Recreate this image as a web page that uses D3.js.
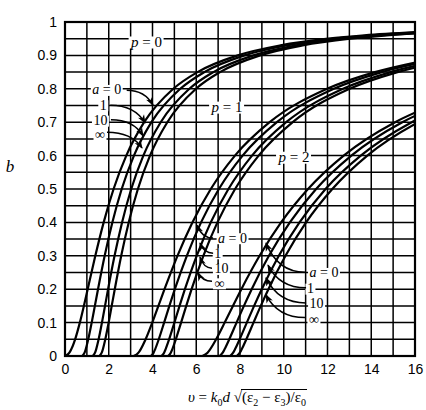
<!DOCTYPE html>
<html>
<head>
<meta charset="utf-8">
<script src="https://cdn.jsdelivr.net/npm/d3@7"></script>
<style>
	body { margin: 0; background: #fff; }
	.axis text { font-family: "Liberation Sans", Arial, sans-serif; font-size: 14px; fill: #000; }
	.serif { font-family: "Liberation Serif", "Times New Roman", serif; fill: #000; }
</style>
</head>
<body>
<svg id="viz"></svg>
<script>
/* values: v for each b, per mode p and asymmetry a */
var xTicks = [0, 2, 4, 6, 8, 10, 12, 14, 16];
var yTicks = [0, 0.1, 0.2, 0.3, 0.4, 0.5, 0.6, 0.7, 0.8, 0.9, 1];

var bMode0 = [0, 0.01, 0.02, 0.05, 0.1, 0.15, 0.2, 0.3, 0.4, 0.5, 0.6, 0.7, 0.8, 0.85, 0.9, 0.93, 0.95, 0.96, 0.97];
var vMode0A0   = [0, 0.201, 0.287, 0.463, 0.678, 0.863, 1.037, 1.386, 1.768, 2.221, 2.802, 3.619, 4.951, 6.058, 7.900, 9.850, 12.03, 13.69, 16.13];
var vMode0A1   = [0.785, 0.895, 0.947, 1.063, 1.220, 1.365, 1.509, 1.814, 2.164, 2.592, 3.152, 3.951, 5.269, 6.368, 8.204, 10.15, 12.33, 13.99, 16.42];
var vMode0A10  = [1.265, 1.373, 1.424, 1.537, 1.689, 1.830, 1.969, 2.265, 2.608, 3.028, 3.581, 4.375, 5.686, 6.783, 8.615, 10.56, 12.74, 14.40, 16.83];
var vMode0AInf = [1.571, 1.679, 1.730, 1.843, 1.995, 2.135, 2.275, 2.570, 2.912, 3.332, 3.885, 4.677, 5.988, 7.085, 8.917, 10.86, 13.04, 14.70, 17.13];

var bMode1 = [0, 0.01, 0.02, 0.05, 0.1, 0.15, 0.2, 0.3, 0.4, 0.5, 0.6, 0.7, 0.8, 0.85, 0.88];
var vMode1A0   = [3.142, 3.359, 3.460, 3.686, 3.990, 4.270, 4.549, 5.141, 5.824, 6.664, 7.769, 9.355, 11.98, 14.17, 16.10];
var vMode1A1   = [3.927, 4.052, 4.120, 4.286, 4.531, 4.772, 5.021, 5.569, 6.219, 7.035, 8.119, 9.687, 12.29, 14.48, 16.40];
var vMode1A10  = [4.406, 4.531, 4.597, 4.760, 5.001, 5.237, 5.482, 6.020, 6.663, 7.471, 8.549, 10.11, 12.71, 14.89, 16.81];
var vMode1AInf = [4.712, 4.837, 4.904, 5.066, 5.306, 5.543, 5.787, 6.325, 6.968, 7.775, 8.852, 10.41, 13.01, 15.20, 17.12];

var bMode2 = [0, 0.01, 0.02, 0.05, 0.1, 0.15, 0.2, 0.3, 0.4, 0.5, 0.6, 0.7, 0.75];
var vMode2A0   = [6.283, 6.516, 6.634, 6.909, 7.301, 7.678, 8.062, 8.895, 9.879, 11.11, 12.74, 15.09, 16.76];
var vMode2A1   = [7.069, 7.210, 7.294, 7.509, 7.843, 8.180, 8.534, 9.323, 10.28, 11.48, 13.09, 15.42, 17.08];
var vMode2A10  = [7.548, 7.688, 7.771, 7.983, 8.312, 8.645, 8.994, 9.775, 10.72, 11.91, 13.52, 15.85, 17.50];
var vMode2AInf = [7.854, 7.994, 8.077, 8.289, 8.618, 8.950, 9.299, 10.08, 11.02, 12.22, 13.82, 16.15, 17.80];

/* labels: [text, v, b] and arrows: [v from, b from, v tip, b tip] */
var modeLabels = [["0", 3.73, 0.94], ["1", 7.41, 0.745], ["2", 10.47, 0.595]];
var aNames = ["0", "1", "10", "\u221e"];
var aLabels0 = [[1.91, 0.797], [1.75, 0.751], [1.62, 0.705], [1.60, 0.664]];
var aLabels1 = [[7.66, 0.353], [6.98, 0.308], [7.15, 0.261], [7.06, 0.218]];
var aLabels2 = [[11.84, 0.249], [11.22, 0.202], [11.50, 0.157], [11.38, 0.111]];
var arrows0 = [[2.82, 0.796, 4.02, 0.751], [2.07, 0.751, 3.66, 0.698], [2.10, 0.707, 3.57, 0.659], [1.92, 0.670, 3.52, 0.623]];
var arrows1 = [[6.77, 0.353, 6.03, 0.392], [6.77, 0.308, 6.17, 0.338], [6.72, 0.263, 6.17, 0.296], [6.72, 0.224, 6.08, 0.249]];
var arrows2 = [[10.97, 0.251, 9.19, 0.338], [11.02, 0.204, 9.28, 0.272], [11.02, 0.159, 9.19, 0.234], [10.97, 0.115, 9.19, 0.183]];

/* create svg */
var margin = { top: 22, right: 11, bottom: 54, left: 65 },
	width = 426 - margin.left - margin.right,
	height = 410 - margin.top - margin.bottom;

var svg = d3.select('#viz')
	.attr('width', width + margin.left + margin.right)
	.attr('height', height + margin.top + margin.bottom);
var g = svg.append('g')
	.attr('transform', 'translate(' + margin.left + ',' + margin.top + ')');

var x = d3.scaleLinear().domain([0, 16]).range([0, width]);
var y = d3.scaleLinear().domain([0, 1]).range([height, 0]);

svg.append('defs').append('clipPath').attr('id', 'plot')
	.append('rect').attr('width', width).attr('height', height);

var marker = svg.select('defs').append('marker')
	.attr('id', 'head')
	.attr('viewBox', '0 -4 9 8')
	.attr('refX', 8).attr('refY', 0)
	.attr('markerWidth', 9).attr('markerHeight', 8)
	.attr('markerUnits', 'userSpaceOnUse')
	.attr('orient', 'auto');
marker.append('path').attr('d', 'M0,-3.5L9,0L0,3.5L2.5,0Z').attr('fill', '#000');

/* grid */
g.append('g').selectAll('line')
	.data(d3.range(1, 16))
	.enter().append('line')
	.attr('x1', function(d){ return x(d); })
	.attr('x2', function(d){ return x(d); })
	.attr('y1', 0).attr('y2', height)
	.attr('stroke', '#000').attr('stroke-width', 1.5);

g.append('g').selectAll('line')
	.data(d3.range(1, 20).map(function(i){ return i * 0.05; }))
	.enter().append('line')
	.attr('y1', function(d){ return y(d); })
	.attr('y2', function(d){ return y(d); })
	.attr('x1', 0).attr('x2', width)
	.attr('stroke', '#000').attr('stroke-width', 1.5);

/* axes */
var xAxis = d3.axisBottom(x).tickValues(xTicks).tickSize(0).tickPadding(8);
var yAxis = d3.axisLeft(y).tickValues(yTicks).tickSize(0).tickPadding(8)
	.tickFormat(d3.format('~g'));

g.append('g').attr('class', 'axis')
	.attr('transform', 'translate(0,' + height + ')')
	.call(xAxis)
	.call(function(a){ a.select('.domain').remove(); })
	.selectAll('text').attr('font-family', null).attr('font-size', null);

g.append('g').attr('class', 'axis')
	.call(yAxis)
	.call(function(a){ a.select('.domain').remove(); })
	.selectAll('text').attr('font-family', null).attr('font-size', null);

/* curves */
var series = [
	[bMode0, vMode0A0], [bMode0, vMode0A1], [bMode0, vMode0A10], [bMode0, vMode0AInf],
	[bMode1, vMode1A0], [bMode1, vMode1A1], [bMode1, vMode1A10], [bMode1, vMode1AInf],
	[bMode2, vMode2A0], [bMode2, vMode2A1], [bMode2, vMode2A10], [bMode2, vMode2AInf]
];

var line = d3.line()
	.x(function(d){ return x(d[0]); })
	.y(function(d){ return y(d[1]); })
	.curve(d3.curveMonotoneX);

g.append('g').attr('clip-path', 'url(#plot)')
	.selectAll('path')
	.data(series)
	.enter().append('path')
	.attr('d', function(s){
		return line(s[1].map(function(v, i){ return [v, s[0][i]]; }));
	})
	.attr('fill', 'none')
	.attr('stroke', '#000')
	.attr('stroke-width', 2.2);

/* frame */
g.append('rect')
	.attr('width', width).attr('height', height)
	.attr('fill', 'none').attr('stroke', '#000').attr('stroke-width', 2.2);

/* labels with a white box behind */
var notes = g.append('g');

var addLabel = function(v, b, varName, value, size){
	var t = notes.append('text')
		.attr('class', 'serif')
		.attr('x', x(v)).attr('y', y(b))
		.attr('dy', '0.33em')
		.attr('text-anchor', 'middle')
		.attr('font-size', size);
	if (varName) {
		t.append('tspan').attr('font-style', 'italic').text(varName);
		t.append('tspan').text(' = ' + value);
	} else {
		t.text(value);
	}
	var box = t.node().getBBox();
	notes.insert('rect', function(){ return t.node(); })
		.attr('x', box.x - 1.5).attr('y', box.y + 2.5)
		.attr('width', box.width + 3).attr('height', box.height - 4)
		.attr('fill', '#fff');
};

var addArrow = function(d){
	var x0 = x(d[0]), y0 = y(d[1]), x1 = x(d[2]), y1 = y(d[3]);
	var cx = x0 + 0.7 * (x1 - x0);
	notes.append('path')
		.attr('d', 'M' + x0 + ',' + y0 + 'Q' + cx + ',' + y0 + ' ' + x1 + ',' + y1)
		.attr('fill', 'none')
		.attr('stroke', '#000')
		.attr('stroke-width', 1.5)
		.attr('marker-end', 'url(#head)');
};

modeLabels.forEach(function(m){ addLabel(m[1], m[2], 'p', m[0], 15); });

[aLabels0, aLabels1, aLabels2].forEach(function(group){
	group.forEach(function(pos, i){
		addLabel(pos[0], pos[1], i === 0 ? 'a' : null, aNames[i], 14);
	});
});

arrows0.concat(arrows1, arrows2).forEach(addArrow);

/* axis titles */
svg.append('text')
	.attr('class', 'serif')
	.attr('x', 10).attr('y', 172)
	.attr('text-anchor', 'middle')
	.attr('font-size', 17)
	.attr('font-style', 'italic')
	.text('b');

var title = svg.append('g');
var part1 = title.append('text').attr('class', 'serif').attr('font-size', 15);
part1.append('tspan').attr('font-style', 'italic').text('\u03c5');
part1.append('tspan').text(' = ');
part1.append('tspan').attr('font-style', 'italic').text('k');
part1.append('tspan').attr('font-size', 10).attr('dy', 4).text('0');
part1.append('tspan').attr('font-style', 'italic').attr('dy', -4).text('d');
part1.append('tspan').text(' \u221a');
var w1 = part1.node().getComputedTextLength();

var part2 = title.append('text').attr('class', 'serif').attr('font-size', 15).attr('x', w1);
part2.append('tspan').text('(\u03b5');
part2.append('tspan').attr('font-size', 10).attr('dy', 4).text('2');
part2.append('tspan').attr('dy', -4).text(' \u2212 \u03b5');
part2.append('tspan').attr('font-size', 10).attr('dy', 4).text('3');
part2.append('tspan').attr('dy', -4).text(')/\u03b5');
part2.append('tspan').attr('font-size', 10).attr('dy', 4).text('0');
var w2 = part2.node().getBBox().width;

title.append('line')
	.attr('x1', w1 - 1).attr('x2', w1 + w2 + 1)
	.attr('y1', -12.5).attr('y2', -12.5)
	.attr('stroke', '#000').attr('stroke-width', 1);

/* left edge of the title as in the reference */
title.attr('transform', 'translate(' + (237 - (w1 + w2) / 2 + 10) + ',402)');
</script>
</body>
</html>
